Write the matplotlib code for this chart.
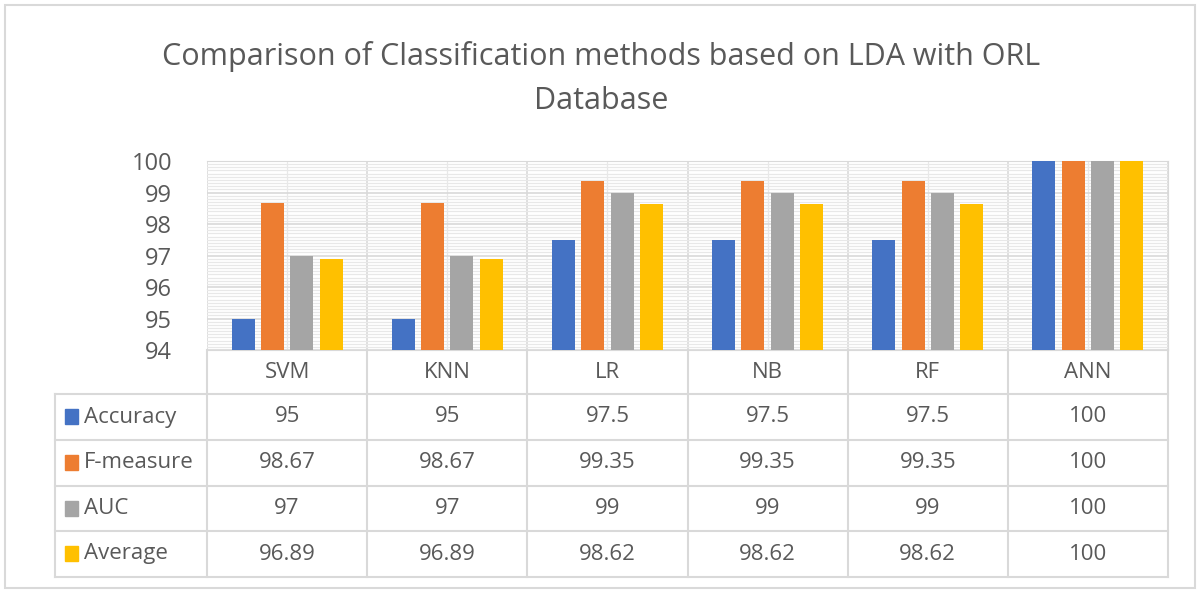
import matplotlib

matplotlib.use("Agg")
import matplotlib.pyplot as plt
from matplotlib.lines import Line2D
from matplotlib.patches import Rectangle
from matplotlib.ticker import MultipleLocator
import numpy as np

methods = ["SVM", "KNN", "LR", "NB", "RF", "ANN"]
series = ["Accuracy", "F-measure", "AUC", "Average"]
accuracy = [95, 95, 97.5, 97.5, 97.5, 100]
f_measure = [98.67, 98.67, 99.35, 99.35, 99.35, 100]
auc = [97, 97, 99, 99, 99, 100]
average = [96.89, 96.89, 98.62, 98.62, 98.62, 100]
value_labels = [
    ["95", "95", "97.5", "97.5", "97.5", "100"],
    ["98.67", "98.67", "99.35", "99.35", "99.35", "100"],
    ["97", "97", "99", "99", "99", "100"],
    ["96.89", "96.89", "98.62", "98.62", "98.62", "100"],
]
colors = ["#4472C4", "#ED7D31", "#A5A5A5", "#FFC000"]

TXT = "#595959"
GRID = "#D9D9D9"
MINOR = "#E8E8E8"
plt.rcParams["font.family"] = ["Open Sans", "DejaVu Sans"]

W, H = 1198, 590
fig = plt.figure(figsize=(W / 100, H / 100), dpi=100)


def fx(px):
    return px / W


def fy(py):
    return 1 - py / H


# plot area in pixels
L, R, T, B = 207, 1168, 161, 350
ax = fig.add_axes([fx(L), fy(B), fx(R - L), (B - T) / H])
ax.set_xlim(0, len(methods))
ax.set_ylim(94, 100)

x = np.arange(len(methods)) + 0.5
width = 0.144
step = 0.183
for k, vals in enumerate([accuracy, f_measure, auc, average]):
    ax.bar(x + (k - 1.5) * step, np.array(vals) - 94, width, bottom=94,
           color=colors[k], zorder=3)

ax.yaxis.set_major_locator(MultipleLocator(1))
ax.yaxis.set_minor_locator(MultipleLocator(0.1))
ax.set_xticks(np.arange(len(methods) + 1))
ax.set_xticks(x, minor=True)
ax.grid(which="major", color=GRID, lw=1.2, zorder=1)
ax.grid(which="minor", color=MINOR, lw=0.9, zorder=0)
ax.tick_params(axis="both", which="both", length=0)
ax.tick_params(axis="y", labelsize=17, labelcolor=TXT, pad=25)
ax.set_xticklabels([])
for s in ["top", "right", "bottom"]:
    ax.spines[s].set_color(GRID)
ax.spines["left"].set_visible(False)

# category labels row
for xi, m in zip(x, methods):
    ax.text(xi, -22 / (B - T), m, transform=ax.get_xaxis_transform(),
            ha="center", va="center", fontsize=16, color=TXT)

# data table
rows_top = [394, 440, 486, 531]
row_bot = 577
tab_left = 55
lines = []
for yy in rows_top + [row_bot]:
    lines.append(((tab_left, R), (yy, yy)))
lines.append(((tab_left, tab_left), (rows_top[0], row_bot)))
for i in range(len(methods) + 1):
    xp = L + i * (R - L) / len(methods)
    lines.append(((xp, xp), (B, row_bot)))
for xs, ys in lines:
    fig.add_artist(Line2D([fx(v) for v in xs], [fy(v) for v in ys],
                          color=GRID, lw=1.5, transform=fig.transFigure))

for r, name in enumerate(series):
    yc = (rows_top[r] + (rows_top[r + 1] if r < 3 else row_bot)) / 2
    fig.add_artist(Rectangle((fx(65), fy(yc + 7)), fx(13), 15 / H,
                             color=colors[r], transform=fig.transFigure))
    fig.text(fx(84), fy(yc), name, ha="left", va="center",
             fontsize=16, color=TXT)
    for c in range(len(methods)):
        ax.text(x[c], (B - yc) / (B - T), value_labels[r][c],
                transform=ax.get_xaxis_transform(), ha="center",
                va="center", fontsize=16, color=TXT)

fig.text(0.502, fy(56), "Comparison of Classification methods based on LDA with ORL",
         ha="center", va="center", fontsize=22, color=TXT)
fig.text(0.502, fy(101), "Database", ha="center", va="center",
         fontsize=22, color=TXT)

# chart border
fig.add_artist(Rectangle((fx(5), fy(588)), fx(1190), 583 / H, fill=False,
                         ec=GRID, lw=1.5, transform=fig.transFigure))

fig.savefig("out.png", dpi=100)
